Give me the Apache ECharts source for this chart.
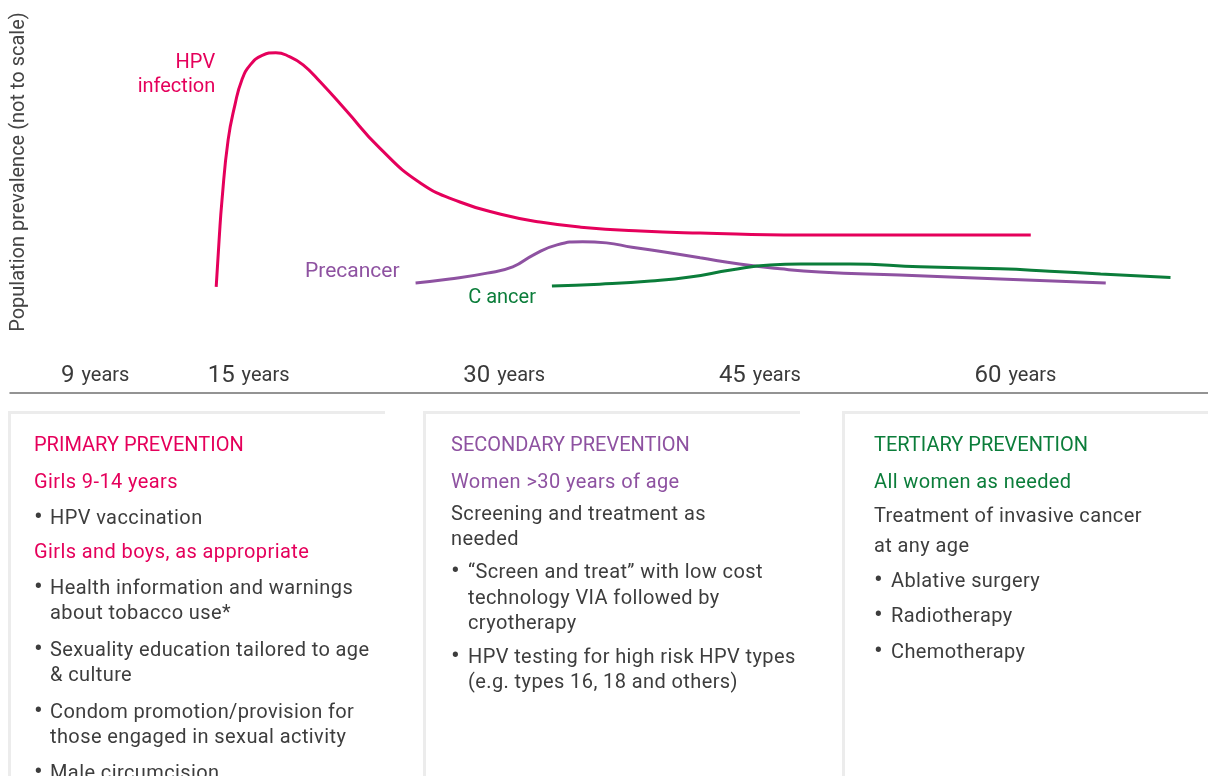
<!DOCTYPE html>
<html>
<head>
<meta charset="utf-8">
<script src="https://cdn.jsdelivr.net/npm/echarts@6/dist/echarts.min.js"></script>
<style>
  body { margin: 0; background: #fff; }
  #wrap { position: relative; width: 1208px; height: 776px; overflow: hidden; font-family: Roboto, "Noto Sans", sans-serif; }
  #chart { position: absolute; left: 0; top: 0; width: 1208px; height: 776px; }
  .panel { position: absolute; top: 411px; height: 420px; border-top: 3px solid #ececec; border-left: 3px solid #ececec; box-sizing: border-box; }
  .ln { position: absolute; white-space: nowrap; font-size: 20px; line-height: 24px; color: #3d3d3d; letter-spacing: 0.4px; }
  .ln.hd { letter-spacing: 0; }
  .ln.bl { font-size: 26px; letter-spacing: 0; }
</style>
</head>
<body>
<div id="wrap">
  <div id="chart"></div>
</div>
<script>
// ---- data ----
const tickLabels = ['9', '15', '30', '45', '60'];
const tickAges = [6, 15, 30, 45, 60]; // schematic axis positions of the age ticks (9 is compressed)

const hpvAges = [13.1, 13.27, 13.44, 13.8, 14.2, 14.6, 15.1, 15.8, 16.6, 17.4, 18.2, 19.2, 20.7, 22.7, 25.1, 27.4, 29.8, 32.1, 34.5, 38.0, 41.5, 47.4, 53.2, 60.9];
const hpvVals = [27.0, 38.9, 49.1, 64.4, 73.3, 79.6, 83.5, 85.9, 86.6, 85.6, 83.5, 79.2, 72.0, 62.3, 53.4, 48.6, 45.5, 43.5, 42.2, 41.2, 40.7, 40.2, 40.2, 40.2];

const preAges = [24.8, 26.8, 29.0, 30.5, 31.7, 33.1, 34.6, 36.0, 37.5, 39.5, 41.5, 43.8, 46.2, 48.5, 53.2, 59.1, 65.3];
const preVals = [28.0, 29.0, 30.5, 32.1, 35.1, 37.7, 38.5, 38.2, 37.1, 35.8, 34.4, 32.8, 31.6, 30.8, 30.0, 29.0, 28.0];

const canAges = [32.8, 35.6, 38.6, 40.9, 43.3, 45.6, 47.4, 50.3, 54.4, 59.1, 62.0, 65.0, 69.1];
const canVals = [27.2, 27.7, 28.5, 29.5, 31.3, 32.6, 32.8, 32.8, 32.1, 31.6, 31.0, 30.3, 29.4];

const PINK = '#e5005b', PURPLE = '#8e52a1', GREEN = '#0b7d3a', GRAY = '#3d3d3d';

function build(ages, vals, labelOpt) {
  return ages.map((a, i) => {
    const item = { value: [a, vals[i]] };
    if (i === 0 && labelOpt) item.label = Object.assign({ show: true, position: 'left', fontFamily: 'Roboto', fontSize: 20 }, labelOpt);
    return item;
  });
}

const chart = echarts.init(document.getElementById('chart'), null, { renderer: 'canvas' });
chart.setOption({
  animation: false,
  grid: { left: 10, right: 0, top: 0, bottom: 383 },
  xAxis: {
    type: 'value', min: 1, max: 71.3,
    axisLine: { show: true, lineStyle: { color: '#707070', width: 1.5 } },
    axisTick: { show: false },
    splitLine: { show: false },
    axisLabel: {
      inside: true, margin: 5, customValues: tickAges,
      formatter: v => { const i = tickAges.indexOf(v); return i < 0 ? '' : '{n|' + tickLabels[i] + '}{y| years}'; },
      rich: {
        n: { fontFamily: 'Roboto', fontSize: 24, color: '#3a3a3a', padding: [0, 2, 0, 0] },
        y: { fontFamily: 'Roboto', fontSize: 20, color: '#3a3a3a' }
      }
    }
  },
  yAxis: { type: 'value', min: 0, max: 100, show: false },
  series: [
    { type: 'line', name: 'HPV infection', smooth: 0.5, symbol: 'circle', symbolSize: 0, showAllSymbol: true,
      lineStyle: { color: PINK, width: 3 }, itemStyle: { color: PINK },
      data: build(hpvAges, hpvVals, { formatter: 'HPV\ninfection', distance: 1, offset: [0, -212], align: 'right', lineHeight: 24, color: PINK }) },
    { type: 'line', name: 'Precancer', smooth: 0.5, symbol: 'circle', symbolSize: 0, showAllSymbol: true,
      lineStyle: { color: PURPLE, width: 3 }, itemStyle: { color: PURPLE },
      data: build(preAges, preVals, { formatter: 'Precancer', distance: 16, offset: [0, -11], fontSize: 21, color: PURPLE }) },
    { type: 'line', name: 'Cancer', smooth: 0.5, symbol: 'circle', symbolSize: 0, showAllSymbol: true,
      lineStyle: { color: GREEN, width: 3 }, itemStyle: { color: GREEN },
      data: build(canAges, canVals, { formatter: 'C ancer', distance: 16, offset: [0, 12], color: GREEN }) }
  ],
  graphic: [
    { type: 'text', x: 19, y: 172, rotation: Math.PI / 2,
      style: { text: 'Population prevalence (not to scale)', fontFamily: 'Roboto', fontSize: 20, fill: '#444', align: 'center', verticalAlign: 'middle' } }
  ]
});

// ---- text panels below the chart ----
const wrap = document.getElementById('wrap');
[[8, 385], [423, 800], [842, 1210]].forEach(([l, r]) => {
  const d = document.createElement('div');
  d.className = 'panel'; d.style.left = l + 'px'; d.style.width = (r - l) + 'px';
  wrap.appendChild(d);
});
// [x, centerY, text, color, bullet]
const lines = [
  [34, 444, 'PRIMARY PREVENTION', PINK, undefined, 'hd'],
  [34, 481, 'Girls 9-14 years', PINK],
  [50, 517, 'HPV vaccination', GRAY, 34],
  [34, 551, 'Girls and boys, as appropriate', PINK],
  [50, 587, 'Health information and warnings', GRAY, 34],
  [50, 612, 'about tobacco use*', GRAY],
  [50, 649, 'Sexuality education tailored to age', GRAY, 34],
  [50, 674, '& culture', GRAY],
  [50, 711, 'Condom promotion/provision for', GRAY, 34],
  [50, 736, 'those engaged in sexual activity', GRAY],
  [50, 772, 'Male circumcision', GRAY, 34],

  [451, 444, 'SECONDARY PREVENTION', PURPLE, undefined, 'hd'],
  [451, 481, 'Women >30 years of age', PURPLE],
  [451, 513, 'Screening and treatment as', GRAY],
  [451, 538, 'needed', GRAY],
  [468, 571, '\u201cScreen and treat\u201d with low cost', GRAY, 451],
  [468, 597, 'technology VIA followed by', GRAY],
  [468, 622, 'cryotherapy', GRAY],
  [468, 656, 'HPV testing for high risk HPV types', GRAY, 451],
  [468, 681, '(e.g. types 16, 18 and others)', GRAY],

  [874, 444, 'TERTIARY PREVENTION', GREEN, undefined, 'hd'],
  [874, 481, 'All women as needed', GREEN],
  [874, 515, 'Treatment of invasive cancer', GRAY],
  [874, 545, 'at any age', GRAY],
  [891, 580, 'Ablative surgery', GRAY, 874],
  [891, 615, 'Radiotherapy', GRAY, 874],
  [891, 651, 'Chemotherapy', GRAY, 874]
];
lines.forEach(([x, cy, t, c, b, cls]) => {
  const d = document.createElement('div');
  d.className = 'ln' + (cls ? ' ' + cls : ''); d.style.left = x + 'px'; d.style.top = (cy - 12) + 'px'; d.style.color = c;
  d.textContent = t; wrap.appendChild(d);
  if (b !== undefined) {
    const s = document.createElement('div');
    s.className = 'ln bl'; s.style.left = b + 'px'; s.style.top = (cy - 13) + 'px'; s.style.color = c;
    s.textContent = '\u2022'; wrap.appendChild(s);
  }
});
</script>
</body>
</html>
